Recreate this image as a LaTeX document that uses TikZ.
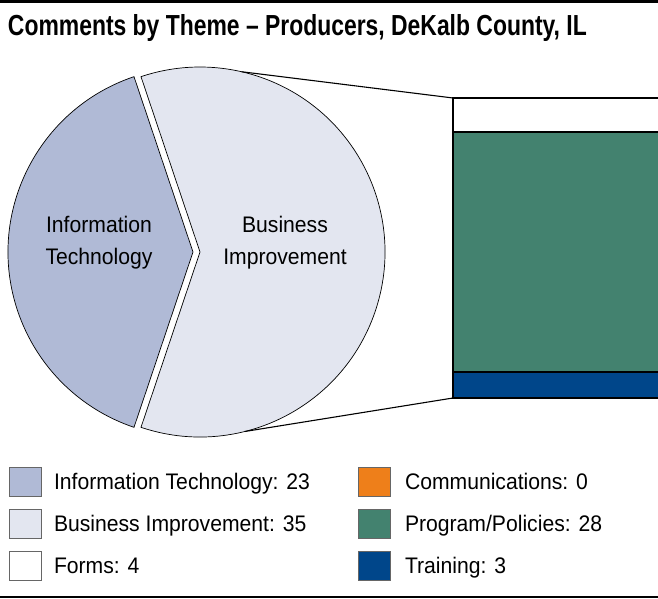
\documentclass[tikz,border=0pt]{standalone}
\usepackage{fontspec}
\setmainfont{Liberation Sans}[FakeStretch=0.94]
\newfontfamily\titlefont[FakeStretch=0.79]{Liberation Sans}
\definecolor{itc}{HTML}{B0BAD6}
\definecolor{bic}{HTML}{E3E6F0}
\definecolor{pgc}{HTML}{43826F}
\definecolor{trc}{HTML}{00468A}
\definecolor{coc}{HTML}{EE7F1A}
\begin{document}
\begin{tikzpicture}[x=1pt,y=1pt,
  every node/.style={inner sep=0pt, outer sep=0pt},
  lbl/.style={font=\fontsize{22.5}{26}\selectfont, anchor=base},
  legtxt/.style={font=\fontsize{22.5}{26}\selectfont, anchor=base west},
  swatch/.style={draw=black!60, line width=0.8pt, minimum width=32pt, minimum height=29pt},
  slice/.style={draw=black, line width=0.7pt},
  seg/.style={draw=black, line width=1.2pt},
  conn/.style={draw=black, line width=1.1pt}]
\useasboundingbox (0,0) rectangle (658,599);
% rules
\fill[black] (0,596) rectangle (658,599);
\fill[black] (0,1) rectangle (658,3);
% title
\node[anchor=base west, font=\titlefont\bfseries\fontsize{29}{33}\selectfont] (title) at (8,563) {Comments by Theme – Producers, DeKalb County, IL};
% pie
\coordinate (itcen) at (193,347);
\coordinate (bicen) at (200,347);
\filldraw[slice, fill=itc] (itcen) -- ++(108.6:185) arc[start angle=108.6, end angle=251.4, radius=185] -- cycle;
\filldraw[slice, fill=bic] (bicen) -- ++(-108.6:185) arc[start angle=-108.6, end angle=108.6, radius=185] -- cycle;
\node[lbl] (it1) at (99,366) {Information};
\node[lbl] (it2) at (99,334) {Technology};
\node[lbl] (bi1) at (285,366) {Business};
\node[lbl] (bi2) at (285,334) {Improvement};
% bar
\coordinate (bartl) at (453,501);
\coordinate (barbl) at (453,201);
\fill[white] (453,467) rectangle (662,501);
\fill[pgc] (453,227) rectangle (662,467);
\fill[trc] (453,201) rectangle (662,227);
\draw[seg] (662,501) -- (bartl) -- (barbl) -- (662,201);
\draw[seg] (453,467) -- (662,467);
\draw[seg] (453,227) -- (662,227);
% connectors
\path (bicen) ++(77:185) coordinate (ctop);
\path (bicen) ++(-76:185) coordinate (cbot);
\draw[conn] (ctop) -- (bartl);
\draw[conn] (cbot) -- (barbl);
% legend
\node[swatch, fill=itc] (s1) at (25,117.5) {};
\node[swatch, fill=bic] (s2) at (25,75.5) {};
\node[swatch, fill=white] (s3) at (25,33.5) {};
\node[swatch, fill=coc] (s4) at (374,117.5) {};
\node[swatch, fill=pgc] (s5) at (374,75.5) {};
\node[swatch, fill=trc] (s6) at (374,33.5) {};
\node[legtxt] (t1) at (54,109) {Information Technology: 23};
\node[legtxt] (t2) at (54,67) {Business Improvement: 35};
\node[legtxt] (t3) at (54,25) {Forms: 4};
\node[legtxt] (t4) at (405,109) {Communications: 0};
\node[legtxt] (t5) at (405,67) {Program/Policies: 28};
\node[legtxt] (t6) at (405,25) {Training: 3};
\end{tikzpicture}
\end{document}
